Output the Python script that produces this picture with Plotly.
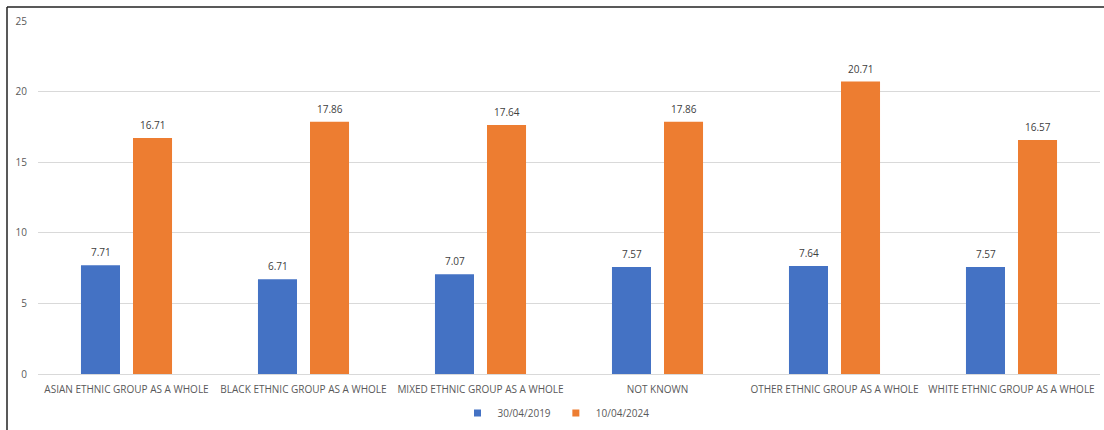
import plotly.graph_objects as go

categories = [
    "ASIAN ETHNIC GROUP AS A WHOLE",
    "BLACK ETHNIC GROUP AS A WHOLE",
    "MIXED ETHNIC GROUP AS A WHOLE",
    "NOT KNOWN",
    "OTHER ETHNIC GROUP AS A WHOLE",
    "WHITE ETHNIC GROUP AS A WHOLE",
]
values_2019 = [7.71, 6.71, 7.07, 7.57, 7.64, 7.57]
values_2024 = [16.71, 17.86, 17.64, 17.86, 20.71, 16.57]
series_names = ["30/04/2019", "10/04/2024"]
colors = ["#4472C4", "#ED7D31"]

W, H = 1104, 430
L, R, T, B = 38, 4, 21, 56
FONT = "Open Sans"

fig = go.Figure()
series = [values_2019, values_2024]
for name, vals, col in zip(series_names, series, colors):
    fig.add_trace(go.Bar(
        x=categories, y=vals, name=name, marker_color=col,
        marker_line_width=0, showlegend=False,
    ))
    # compact square legend entry
    fig.add_trace(go.Scatter(
        x=[None], y=[None], mode="markers", name=name,
        marker=dict(symbol="square", size=7, color=col),
    ))

# value labels above each bar
shifts = [-26, 26]
for vals, dx in zip(series, shifts):
    for c, v in zip(categories, vals):
        fig.add_annotation(
            x=c, y=v, xref="x", yref="y", text=f"{v:.2f}",
            showarrow=False, xshift=dx, yshift=13,
            font=dict(family=FONT, size=10, color="#404040"),
        )

pw = W - L - R
ph = H - T - B
# outer frame: top and left edges
fx = (7 - L) / pw
fy = 1 + (T - 7) / ph
fig.add_shape(type="line", xref="paper", yref="paper",
              x0=fx, x1=(W - L) / pw, y0=fy, y1=fy,
              line=dict(color="#222222", width=1.5))
fig.add_shape(type="line", xref="paper", yref="paper",
              x0=fx, x1=fx, y0=fy, y1=-(B + 5) / ph,
              line=dict(color="#222222", width=1.5))

fig.update_layout(
    width=W, height=H,
    margin=dict(l=L, r=R, t=T, b=B, autoexpand=False),
    paper_bgcolor="white", plot_bgcolor="white",
    barmode="group", bargap=0.412, bargroupgap=0.25,
    font=dict(family=FONT, size=10, color="#595959"),
    showlegend=True,
    legend=dict(orientation="h", x=(556 - L) / pw, xanchor="center",
                y=-(413 - (H - B)) / ph, yanchor="middle",
                font=dict(family=FONT, size=10, color="#595959"),
                itemwidth=30, tracegroupgap=0),
    xaxis=dict(showgrid=False, showline=True, linecolor="#D9D9D9",
               tickfont=dict(family=FONT, size=10, color="#595959"),
               ticks="", ticklabelstandoff=6, fixedrange=True),
    yaxis=dict(range=[0, 25], dtick=5, showgrid=True, gridcolor="#D9D9D9",
               zeroline=False, showline=False, ticks="", ticklabelstandoff=10,
               tickfont=dict(family=FONT, size=10, color="#595959"),
               fixedrange=True),
)

fig.write_html("out.html")
